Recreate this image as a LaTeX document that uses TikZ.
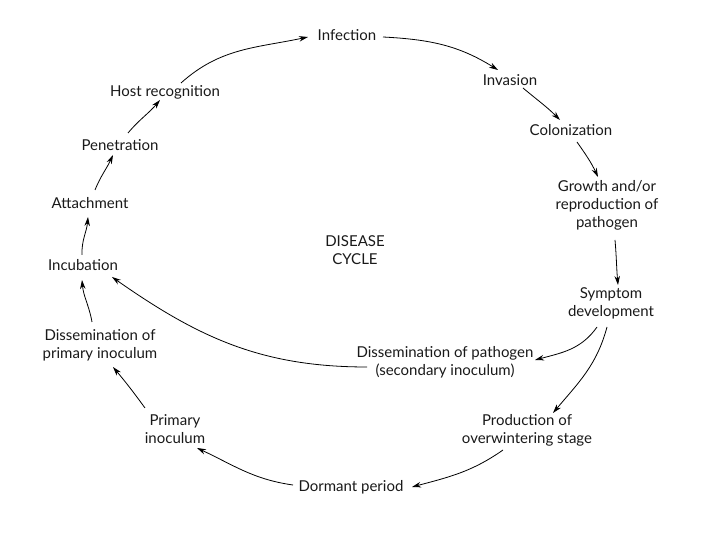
\documentclass[tikz,border=0pt]{standalone}
\usepackage{fontspec}
\setmainfont{Lato}
\usetikzlibrary{arrows.meta}
\begin{document}
\begin{tikzpicture}[x=1pt,y=1pt,
  lab/.style={inner sep=0pt, align=center, font=\fontsize{15}{18}\selectfont, text=black!90},
  arr/.style={draw=black, line width=0.8pt, -{Stealth[length=9pt,width=5.5pt]}}]
\useasboundingbox (0,0) rectangle (720,540);
\node[lab] (inf) at (347,505) {Infection};
\node[lab] (inv) at (510,460) {Invasion};
\node[lab] (col) at (571,410) {Colonization};
\node[lab] (grow) at (607,335) {Growth and/or\\reproduction of\\pathogen};
\node[lab] (sym) at (611,237) {Symptom\\development};
\node[lab] (disp) at (445,178) {Dissemination of pathogen\\(secondary inoculum)};
\node[lab] (prod) at (527,110) {Production of\\overwintering stage};
\node[lab] (dorm) at (351,53) {Dormant period};
\node[lab] (prim) at (175,111) {Primary\\inoculum};
\node[lab] (dispri) at (100,195) {Dissemination of\\primary inoculum};
\node[lab] (inc) at (83,275) {Incubation};
\node[lab] (att) at (90,337) {Attachment};
\node[lab] (pen) at (120,395) {Penetration};
\node[lab] (host) at (165,448) {Host recognition};
\node[lab] (dc) at (355,290) {DISEASE\\CYCLE};

\draw[arr] ([shift={(16,9)}]host.center) to[out=42,in=192] ([shift={(-39,-2)}]inf.center);
\draw[arr] ([shift={(36,-2)}]inf.center) to[out=-3,in=148] ([shift={(-12,10)}]inv.center);
\draw[arr] ([shift={(13,-8)}]inv.center) to[out=-40,in=135] ([shift={(-11,10)}]col.center);
\draw[arr] ([shift={(6,-12)}]col.center) to[out=-55,in=115] ([shift={(-9,28)}]grow.center);
\draw[arr] ([shift={(8,-35)}]grow.center) to[out=-85,in=95] ([shift={(7,18)}]sym.center);
\draw[arr] ([shift={(-14,-24)}]sym.center) to[out=-125,in=15] ([shift={(90,2)}]disp.center);
\draw[arr] ([shift={(-4,-24)}]sym.center) to[out=-105,in=50] ([shift={(26,17)}]prod.center);
\draw[arr] ([shift={(-24,-20)}]prod.center) to[out=-145,in=15] ([shift={(61,0)}]dorm.center);
\draw[arr] ([shift={(-58,2)}]dorm.center) to[out=172,in=-25] ([shift={(22,-19)}]prim.center);
\draw[arr] ([shift={(-30,21)}]prim.center) to[out=126,in=-50] ([shift={(13,-22)}]dispri.center);
\draw[arr] ([shift={(-8,23)}]dispri.center) to[out=100,in=-85] ([shift={(-1,-15)}]inc.center);
\draw[arr] ([shift={(-1,10)}]inc.center) to[out=92,in=-95] ([shift={(-2,-14)}]att.center);
\draw[arr] ([shift={(5,13)}]att.center) to[out=68,in=-115] ([shift={(-7,-10)}]pen.center);
\draw[arr] ([shift={(8,12)}]pen.center) to[out=50,in=-130] ([shift={(-5,-8)}]host.center);
\draw[arr] ([shift={(-78,-5)}]disp.center) to[out=180,in=-35] ([shift={(29,-12)}]inc.center);
\end{tikzpicture}
\end{document}
